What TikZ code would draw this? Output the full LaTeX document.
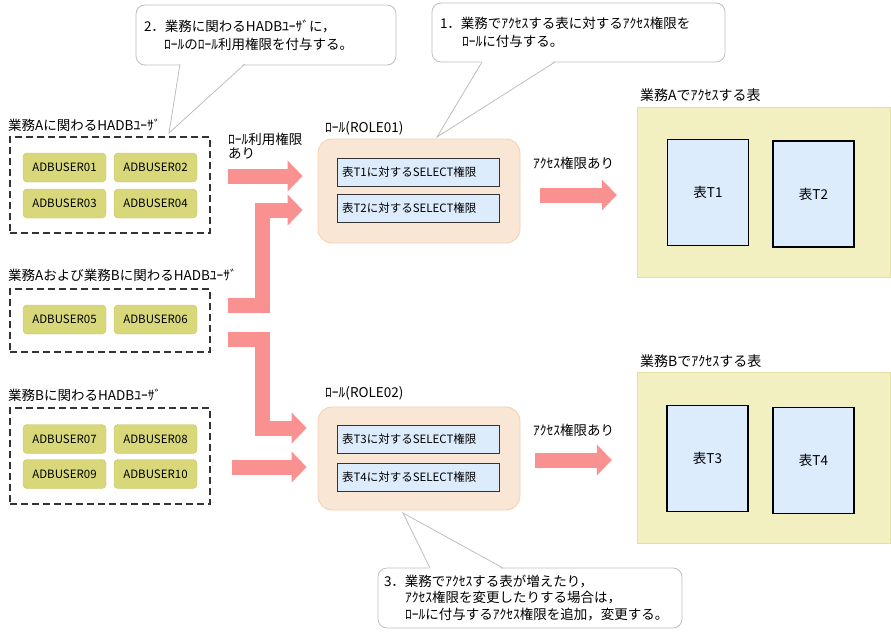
\documentclass[tikz,border=0pt]{standalone}
\usepackage{fontspec}
\setmainfont{Noto Sans CJK JP}
\usetikzlibrary{arrows.meta,positioning,calc}
\definecolor{fatred}{RGB}{249,145,145}
\definecolor{userfill}{RGB}{216,216,122}
\definecolor{userline}{RGB}{196,196,104}
\definecolor{rolefill}{RGB}{250,230,212}
\definecolor{roleline}{RGB}{243,208,176}
\definecolor{bluefill}{RGB}{221,236,252}
\definecolor{areafill}{RGB}{242,240,192}
\definecolor{arealine}{RGB}{226,224,166}
\definecolor{callline}{RGB}{190,190,190}

\begin{document}
\begin{tikzpicture}[x=1pt,y=-1pt,font=\fontsize{13.5}{17}\selectfont,
  grp/.style={draw=black!80, dash pattern=on 7pt off 4pt, line width=1.1pt, minimum width=200pt, minimum height=96pt, inner sep=0pt},
  usr/.style={draw=userline, fill=userfill, rounded corners=4pt, minimum width=83pt, minimum height=29pt, inner sep=0pt, font=\fontsize{11.5}{14}\selectfont},
  role/.style={draw=roleline, fill=rolefill, rounded corners=14pt, line width=0.8pt, minimum width=202pt, minimum height=104pt},
  perm/.style={draw=black!80, fill=bluefill, line width=0.9pt, minimum width=162pt, minimum height=28pt, text width=152pt, align=left, inner xsep=5pt, font=\fontsize{11.5}{14}\selectfont},
  area/.style={draw=arealine, fill=areafill, minimum width=253pt, minimum height=170pt},
  tbl/.style={draw=black, fill=bluefill, line width=1.4pt, minimum width=81pt, minimum height=106pt},
  call/.style={draw=callline, fill=white, rounded corners=9pt, line width=0.8pt, align=left, inner xsep=8pt, font=\fontsize{13.5}{18}\selectfont},
  tail/.style={draw=callline, line width=0.8pt},
  fat/.style={draw=fatred, line width=15pt, line join=miter, -{Triangle[length=15pt,width=31pt,line width=0pt]}},
  lbl/.style={anchor=west, inner sep=0pt}]
\useasboundingbox (0,0) rectangle (891,634);
% user groups
\node[lbl] (la) at (8,125) {業務Aに関わるHADBﾕｰｻﾞ};
\node[grp] (grpA) at (110,185) {};
\node[usr] (u1) at (64.5,167.5) {ADBUSER01};
\node[usr] (u2) at (155.5,167.5) {ADBUSER02};
\node[usr] (u3) at (64.5,203.5) {ADBUSER03};
\node[usr] (u4) at (155.5,203.5) {ADBUSER04};
\node[lbl] (lab) at (8,275) {業務Aおよび業務Bに関わるHADBﾕｰｻﾞ};
\node[grp, minimum height=63pt] (grpAB) at (110,320.5) {};
\node[usr] (u5) at (64.5,319.5) {ADBUSER05};
\node[usr] (u6) at (155.5,319.5) {ADBUSER06};
\node[lbl] (lb) at (8,395) {業務Bに関わるHADBﾕｰｻﾞ};
\node[grp] (grpB) at (110,456) {};
\node[usr] (u7) at (64.5,439) {ADBUSER07};
\node[usr] (u8) at (155.5,439) {ADBUSER08};
\node[usr] (u9) at (64.5,474) {ADBUSER09};
\node[usr] (u10) at (155.5,474) {ADBUSER10};
% roles
\node[lbl, anchor=north west, align=left, font=\fontsize{13.5}{14}\selectfont] (luse) at (228,133) {ﾛｰﾙ利用権限\\あり};
\node[lbl] (lr1) at (325,128) {ﾛｰﾙ(ROLE01)};
\node[role] (role1) at (419,191) {};
\node[perm] (p1) at (418,172) {表T1に対するSELECT権限};
\node[perm] (p2) at (418,208.5) {表T2に対するSELECT権限};
\node[lbl] (lr2) at (325,393) {ﾛｰﾙ(ROLE02)};
\node[role, minimum height=103pt] (role2) at (419,458.5) {};
\node[perm] (p3) at (418,439) {表T3に対するSELECT権限};
\node[perm] (p4) at (418,477) {表T4に対するSELECT権限};
% tables
\node[lbl] (lacc1) at (533,163) {ｱｸｾｽ権限あり};
\node[lbl, font=\fontsize{14}{17}\selectfont] (lta) at (640,95) {業務Aでｱｸｾｽする表};
\node[area] (tblA) at (763.5,192) {};
\node[tbl] (t1) at (708,192.5) {表T1};
\node[tbl] (t2) at (813.5,194) {表T2};
\node[lbl] (lacc2) at (533,430) {ｱｸｾｽ権限あり};
\node[lbl, font=\fontsize{14}{17}\selectfont] (ltb) at (640,361) {業務Bでｱｸｾｽする表};
\node[area, minimum height=171pt] (tblB) at (763.5,457.5) {};
\node[tbl] (t3) at (707.5,458.5) {表T3};
\node[tbl] (t4) at (813.5,460.5) {表T4};
% fat arrows
\draw[fat] ([xshift=17]grpA.east |- 0,176) -- ([xshift=-15]role1.west |- 0,176);
\draw[fat] ([xshift=17]grpAB.east |- 0,305) -| (262,210) -- ([xshift=-15]role1.west |- 0,210);
\draw[fat] ([xshift=17]grpAB.east |- 0,339) -| (262,428) -- ([xshift=-11]role2.west |- 0,428);
\draw[fat] ([xshift=21]grpB.east |- 0,467) -- ([xshift=-11]role2.west |- 0,467);
\draw[fat] ([xshift=20]role1.east |- 0,195) -- ([xshift=-20]tblA.west |- 0,195);
\draw[fat] ([xshift=15]role2.east |- 0,460) -- ([xshift=-25]tblB.west |- 0,460);
% callouts
\node[call, minimum width=260pt, minimum height=60pt, text width=244pt] (c2) at (266,35) {2．業務に関わるHADBﾕｰｻﾞに，\\\hspace*{20pt}ﾛｰﾙのﾛｰﾙ利用権限を付与する。};
\coordinate (tip2) at (169,133);
\fill[white] (180,62) -- (tip2) -- (245,62) -- cycle;
\draw[tail] (180,64) -- (tip2) -- (245,64);
\node[call, minimum width=293pt, minimum height=59pt, text width=277pt] (c1) at (578.5,32.5) {1．業務でｱｸｾｽする表に対するｱｸｾｽ権限を\\\hspace*{22pt}ﾛｰﾙに付与する。};
\coordinate (tip1) at (437,137);
\fill[white] (482,60) -- (tip1) -- (555,60) -- cycle;
\draw[tail] (482,62) -- (tip1) -- (555,62);
\node[call, minimum width=304pt, minimum height=60pt, text width=292pt, inner xsep=6pt, font=\fontsize{13.5}{16.5}\selectfont] (c3) at (530,598) {3．業務でｱｸｾｽする表が増えたり，\\\hspace*{21pt}ｱｸｾｽ権限を変更したりする場合は，\\\hspace*{21pt}ﾛｰﾙに付与するｱｸｾｽ権限を追加，変更する。};
\coordinate (tip3) at (403,513);
\fill[white] (430,570) -- (tip3) -- (503,570) -- cycle;
\draw[tail] (430,568) -- (tip3) -- (503,568);
\end{tikzpicture}
\end{document}
